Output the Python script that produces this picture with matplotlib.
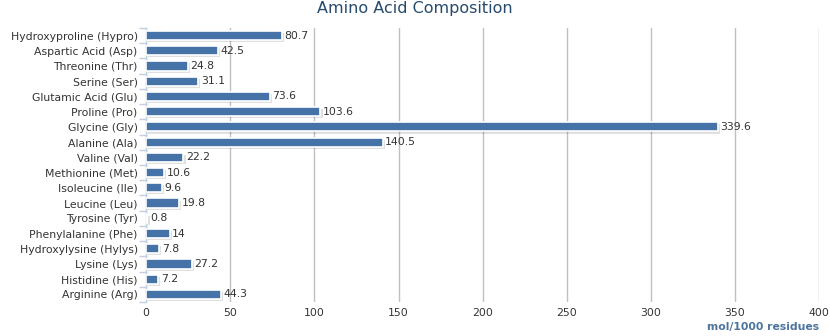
import matplotlib
matplotlib.use("Agg")
import matplotlib.pyplot as plt
import matplotlib.patheffects as pe
import numpy as np

# amino acid composition, mol/1000 residues
categories = ["Hydroxyproline (Hypro)", "Aspartic Acid (Asp)", "Threonine (Thr)",
              "Serine (Ser)", "Glutamic Acid (Glu)", "Proline (Pro)", "Glycine (Gly)",
              "Alanine (Ala)", "Valine (Val)", "Methionine (Met)", "Isoleucine (Ile)",
              "Leucine (Leu)", "Tyrosine (Tyr)", "Phenylalanine (Phe)",
              "Hydroxylysine (Hylys)", "Lysine (Lys)", "Histidine (His)", "Arginine (Arg)"]
values = [80.7, 42.5, 24.8, 31.1, 73.6, 103.6, 339.6, 140.5, 22.2, 10.6, 9.6,
          19.8, 0.8, 14, 7.8, 27.2, 7.2, 44.3]
x_ticks = [0, 50, 100, 150, 200, 250, 300, 350, 400]

text_col = "#333333"
fs = 7.8

fig = plt.figure(figsize=(8.3, 3.36), dpi=100)
ax = fig.add_axes([0.176, 0.101, 0.811, 0.816])

y = np.arange(len(categories))
bars = ax.barh(y, values, height=0.6, color="#4572A7", edgecolor="white", linewidth=1.2, zorder=3)
for b in bars:
    b.set_path_effects([pe.SimplePatchShadow(offset=(1.5, -1.5), shadow_rgbFace="#000000", alpha=0.12),
                        pe.Normal()])

for yi, v in zip(y, values):
    ax.text(v + 1.5, yi, "%g" % v, va="center", ha="left", fontsize=fs, color=text_col, zorder=4)

ax.set_ylim(len(categories) - 0.5, -0.5)
ax.set_xlim(0, 400)
ax.set_yticks(y)
ax.set_yticklabels(categories, fontsize=fs, color=text_col)
ax.set_yticks(np.arange(-0.5, len(categories), 1), minor=True)
ax.tick_params(axis="y", which="major", length=0, pad=6)
ax.tick_params(axis="y", which="minor", length=5, color="#C0D0E0", width=1)

ax.set_xticks(x_ticks)
ax.set_xticklabels([str(t) for t in x_ticks], fontsize=fs, color=text_col)
ax.tick_params(axis="x", length=0, pad=4)
ax.grid(axis="x", color="#C0C0C0", linewidth=1, zorder=0)

for s in ["top", "right", "bottom"]:
    ax.spines[s].set_visible(False)
ax.spines["left"].set_color("#C0D0E0")
ax.spines["left"].set_linewidth(1)

fig.text(0.5, 0.975, "Amino Acid Composition", fontsize=11.5, color="#274b6d",
         ha="center", va="center")
fig.text(0.987, 0.012, "mol/1000 residues", fontsize=fs, fontweight="bold", color="#4d759e",
         ha="right", va="bottom")

fig.savefig("out.png", dpi=100)
